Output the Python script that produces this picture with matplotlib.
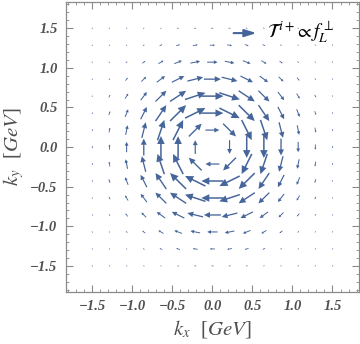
#!/usr/bin/env python3
"""Vector field of the T-odd transverse-momentum distribution in the (kx, ky) plane."""

import numpy as np
import matplotlib
matplotlib.use("Agg")
import matplotlib.pyplot as plt

plt.rcParams["mathtext.fontset"] = "stix"

# grid of sample points (GeV), 15 x 15
k_grid = [-1.5, -1.2857, -1.0714, -0.8571, -0.6429, -0.4286, -0.2143, 0.0,
          0.2143, 0.4286, 0.6429, 0.8571, 1.0714, 1.2857, 1.5]

# arrow magnitude (arb. units) for one quadrant,
# indexed [|iy|][|ix|] from the centre outwards; field circulates clockwise
quad_mag = [
    [0.0, 13.9, 22.0, 22.2, 17.0, 10.4, 5.2, 2.2],
    [13.9, 18.2, 22.7, 21.6, 16.2, 9.8, 4.9, 2.0],
    [22.0, 22.7, 22.7, 19.4, 13.9, 8.2, 4.0, 1.7],
    [22.2, 21.6, 19.4, 15.4, 10.4, 6.0, 2.9, 1.2],
    [17.0, 16.2, 13.9, 10.4, 6.8, 3.8, 1.8, 0.7],
    [10.4, 9.8, 8.2, 6.0, 3.8, 2.0, 0.9, 0.4],
    [5.2, 4.9, 4.0, 2.9, 1.8, 0.9, 0.4, 0.2],
    [2.2, 2.0, 1.7, 1.2, 0.7, 0.4, 0.2, 0.1],
]

tick_vals = [-1.5, -1.0, -0.5, 0.0, 0.5, 1.0, 1.5]
tick_labels = ["\u22121.5", "\u22121.0", "\u22120.5", "0.0", "0.5", "1.0", "1.5"]

arrow_color = "#46659a"
text_color = "#505050"
frame_color = "#8a8a8a"

fig = plt.figure(figsize=(3.6, 3.44), dpi=100)
ax = fig.add_axes([0.183, 0.151, 0.814, 0.843])

scale = 1.0 / 80.0  # magnitude units -> GeV on the plot
n = len(k_grid)
mid = n // 2
for iy in range(n):
    for ix in range(n):
        x, y = k_grid[ix], k_grid[iy]
        r = np.hypot(x, y)
        if r == 0:
            continue
        m = quad_mag[abs(iy - mid)][abs(ix - mid)]
        L = max(m, 1.4) * scale
        ux, uy = y / r, -x / r
        dx, dy = ux * L, uy * L
        ax.arrow(x - dx / 2, y - dy / 2, dx, dy,
                 length_includes_head=True,
                 width=0.04 * L + 0.008,
                 head_width=0.32 * L + 0.006,
                 head_length=0.36 * L,
                 color=arrow_color, linewidth=0)

# legend arrow and label
ax.annotate("", xy=(0.66, 0.893), xytext=(0.563, 0.893),
            xycoords="axes fraction",
            arrowprops=dict(arrowstyle="-|>,head_length=0.7,head_width=0.22",
                            color=arrow_color, lw=1.5))
ax.text(0.685, 0.895, r"$\mathcal{T}^{\,i+}\!\propto f_L^{\perp}$",
        transform=ax.transAxes, fontsize=14, va="center", ha="left",
        color="black")

ax.set_xlim(-1.83, 1.83)
ax.set_ylim(-1.83, 1.83)

ax.set_xticks(tick_vals)
ax.set_xticklabels(tick_labels)
ax.set_yticks(tick_vals)
ax.set_yticklabels(tick_labels)
ax.set_xticks(np.arange(-1.8, 1.81, 0.1), minor=True)
ax.set_yticks(np.arange(-1.8, 1.81, 0.1), minor=True)

for lab in ax.get_xticklabels() + ax.get_yticklabels():
    lab.set_fontfamily("Liberation Serif")
    lab.set_fontstyle("italic")
    lab.set_fontweight("bold")
    lab.set_fontsize(10.5)
    lab.set_color(text_color)

ax.tick_params(which="both", direction="in", top=True, right=True,
               color=frame_color)
ax.tick_params(which="major", length=5, width=0.8, pad=6)
ax.tick_params(which="minor", length=2.5, width=0.6)
for sp in ax.spines.values():
    sp.set_color(frame_color)
    sp.set_linewidth(0.9)

ax.set_xlabel(r"$k_x$  [$GeV$]", fontsize=15, color=text_color,
              family="Liberation Serif", labelpad=3)
ax.set_ylabel(r"$k_y$  [$GeV$]", fontsize=15, color=text_color,
              family="Liberation Serif", labelpad=3)

fig.savefig("out.png", dpi=100)
